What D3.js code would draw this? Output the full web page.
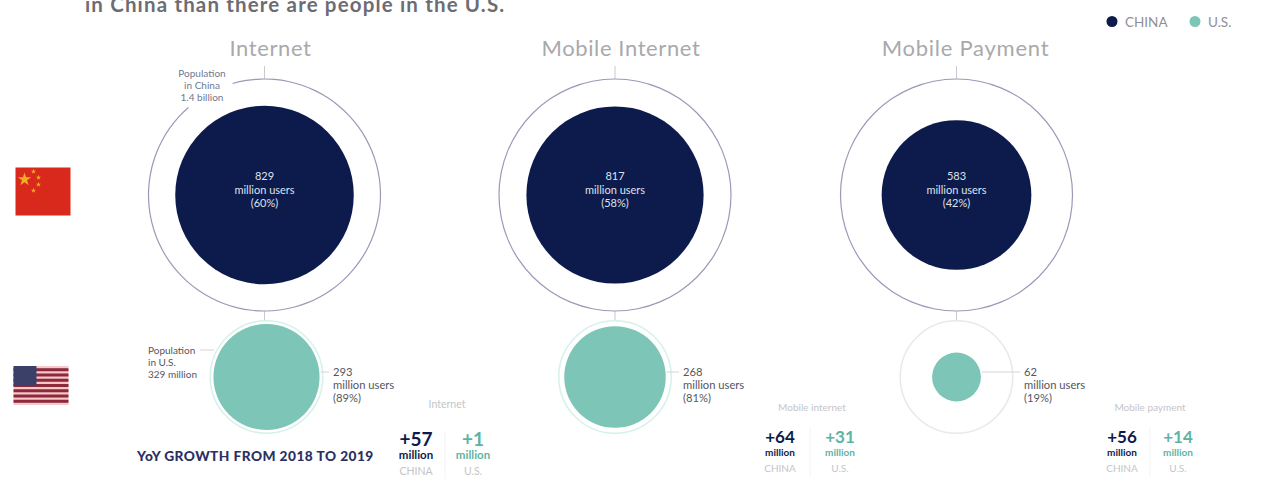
<!DOCTYPE html>
<html>
<head>
<meta charset="utf-8">
<script src="https://cdn.jsdelivr.net/npm/d3@7"></script>
<style>
  html, body { margin: 0; padding: 0; background: #fff; overflow: hidden; }
  text { font-family: Lato, "Open Sans", sans-serif; }
</style>
</head>
<body>
<svg id="chart" width="1267" height="498"></svg>
<script>
// Adoption figures, in millions of users
const categories = ["Internet", "Mobile Internet", "Mobile Payment"];
const chinaUsers = [829, 817, 583];
const chinaShare = [60, 58, 42];
const usUsers = [293, 268, 62];
const usShare = [89, 81, 19];
const chinaPopulation = 1400;
const usPopulation = 329;
const growthLabels = ["Internet", "Mobile internet", "Mobile payment"];
const chinaGrowth = [57, 64, 56];
const usGrowth = [1, 31, 14];

const NAVY = "#0d1b4c", TEAL = "#7cc5b7", GREY = "#a9a9ad", INK = "#55565f";
const svg = d3.select("#chart");

// Circle area is proportional to headcount
const radius = d3.scaleSqrt().domain([0, chinaPopulation]).range([0, 116]);
const column = d3.scaleOrdinal().domain(categories).range([264.5, 615, 956.5]);
const rowChina = 195, rowUS = 377;

// Small helper for stacked, centred or left aligned text blocks
function block(x, y, lines, o) {
  const t = svg.append("text").attr("x", x).attr("y", y)
    .attr("text-anchor", o.anchor || "middle")
    .attr("font-size", o.size).attr("fill", o.fill)
    .attr("font-weight", o.weight || 400);
  lines.forEach((l, i) => t.append("tspan").attr("x", x)
    .attr("dy", i ? o.lead : 0).text(l));
}

// Headline, running off the top edge
svg.append("text").attr("x", 85).attr("y", 12)
  .attr("font-size", 20.5).attr("font-weight", 700).attr("fill", "#6c6d74")
  .attr("letter-spacing", 1.15)
  .text("in China than there are people in the U.S.");

// Legend
[["CHINA", NAVY, 1112, 1125], ["U.S.", TEAL, 1195, 1208]].forEach(([label, c, cx, tx]) => {
  svg.append("circle").attr("cx", cx).attr("cy", 21.5).attr("r", 5.5).attr("fill", c);
  svg.append("text").attr("x", tx).attr("y", 26.5).attr("font-size", 13.5)
    .attr("fill", "#8f9096").text(label);
});

// Flags
const china = svg.append("g").attr("transform", "translate(15.5,167.5)");
china.append("rect").attr("width", 55).attr("height", 48).attr("fill", "#d9281c");
const star = d3.symbol().type(d3.symbolStar);
[[9, 12, 55], [18, 4, 9], [23, 10, 9], [23, 17, 9], [18, 23, 9]].forEach(([x, y, s]) =>
  china.append("path").attr("d", star.size(s)()).attr("transform", `translate(${x},${y})`)
    .attr("fill", "#f0ae22"));

const usa = svg.append("g").attr("transform", "translate(13.5,366)");
const stripe = d3.scaleBand().domain(d3.range(7)).range([0, 39]).padding(0.42);
usa.append("rect").attr("width", 55).attr("height", 39).attr("fill", "#f7c9cb");
d3.range(7).forEach(i => usa.append("rect").attr("y", stripe(i)).attr("width", 55)
  .attr("height", stripe.bandwidth()).attr("fill", "#8c2a3c"));
usa.append("rect").attr("width", 23).attr("height", 20).attr("fill", "#3a4068");

categories.forEach((cat, i) => {
  const cx = column(cat);
  const ringChina = radius(chinaPopulation), ringUS = radius(usPopulation);

  // Column heading and connectors
  svg.append("text").attr("x", cx + [6, 6, 9][i]).attr("y", 56).attr("text-anchor", "middle")
    .attr("font-size", 22).attr("letter-spacing", [0.6, 0.6, 0.75][i]).attr("fill", GREY).text(cat);
  svg.append("line").attr("x1", cx).attr("x2", cx).attr("y1", 66).attr("y2", rowChina - ringChina)
    .attr("stroke", "#c9c9d0");
  svg.append("line").attr("x1", cx).attr("x2", cx)
    .attr("y1", rowChina + ringChina).attr("y2", rowUS - ringUS + 1)
    .attr("stroke", "#c9c9d0");

  // China population ring; the first one leaves a gap for its label
  const gap = i === 0;
  const ringPath = d3.arc()
    .innerRadius(ringChina - 0.6).outerRadius(ringChina + 0.6)
    .startAngle(gap ? -16 * Math.PI / 180 : 0)
    .endAngle(gap ? 319 * Math.PI / 180 : 2 * Math.PI);
  svg.append("path").attr("transform", `translate(${cx},${rowChina})`)
    .attr("d", ringPath()).attr("fill", "#9a9ab8");

  // China users
  svg.append("circle").attr("cx", cx).attr("cy", rowChina)
    .attr("r", radius(chinaUsers[i])).attr("fill", NAVY);
  block(cx, rowChina - 15, [chinaUsers[i], "million users", `(${chinaShare[i]}%)`],
    { size: 11, fill: "#dfe1ea", lead: 13.5 });

  // U.S. population ring and users
  const ux = cx + (i === 0 ? 2 : 0);
  svg.append("circle").attr("cx", ux).attr("cy", rowUS).attr("r", ringUS)
    .attr("fill", "#fff").attr("stroke", i === 2 ? "#e8eae8" : "#d6f2ec").attr("stroke-width", 1.6);
  const r = radius(usUsers[i]);
  svg.append("circle").attr("cx", ux).attr("cy", rowUS).attr("r", r).attr("fill", TEAL);

  // U.S. label with its leader line
  const labelX = [333, 683, 1024][i];
  svg.append("line").attr("x1", ux + r + 1).attr("x2", labelX - 4)
    .attr("y1", 372).attr("y2", 372).attr("stroke", "#d4d4d8");
  block(labelX, 376, [usUsers[i], "million users", `(${usShare[i]}%)`],
    { size: 11.2, fill: INK, anchor: "start", lead: 13 });

  // Year-on-year growth panel
  const panel = [[447, 416, 473, 408, 445], [812, 780, 840, 411, 810], [1150, 1122, 1178, 411, 1150]][i];
  const [labelMid, xChina, xUS, yLabel, xRule] = panel;
  const dy = i === 0 ? 3 : 0;
  svg.append("text").attr("x", labelMid).attr("y", yLabel).attr("text-anchor", "middle")
    .attr("font-size", i === 0 ? 10.5 : 10).attr("fill", "#c4c5c8").text(growthLabels[i]);
  svg.append("line").attr("x1", xRule).attr("x2", xRule)
    .attr("y1", 428 + dy).attr("y2", 476 + dy).attr("stroke", "#f3f3f4");
  [[xChina, chinaGrowth[i], NAVY, "CHINA"], [xUS, usGrowth[i], "#5fb3a2", "U.S."]].forEach(([x, v, c, name]) => {
    svg.append("text").attr("x", x).attr("y", 443 + dy).attr("text-anchor", "middle")
      .attr("font-size", i === 0 ? 19 : 17).attr("font-weight", 700).attr("fill", c).text(`+${v}`);
    svg.append("text").attr("x", x).attr("y", 456 + dy).attr("text-anchor", "middle")
      .attr("font-size", i === 0 ? 11.5 : 10).attr("font-weight", 700).attr("fill", c).text("million");
    svg.append("text").attr("x", x).attr("y", 472 + dy).attr("text-anchor", "middle")
      .attr("font-size", i === 0 ? 10.5 : 10).attr("fill", "#c4c5c8").text(name);
  });
});

// Population callouts
block(202, 77, ["Population", "in China", "1.4 billion"], { size: 10, fill: "#6f7a90", lead: 12 });
block(148, 354, ["Population", "in U.S.", "329 million"], { size: 10, fill: INK, anchor: "start", lead: 12 });
svg.append("line").attr("x1", 200).attr("x2", 214).attr("y1", 350).attr("y2", 350).attr("stroke", "#d4d4d8");

svg.append("text").attr("x", 137).attr("y", 461).attr("font-size", 13.7).attr("font-weight", 900)
  .attr("letter-spacing", 0.45).attr("fill", "#2b2f63").text("YoY GROWTH FROM 2018 TO 2019");
</script>
</body>
</html>
